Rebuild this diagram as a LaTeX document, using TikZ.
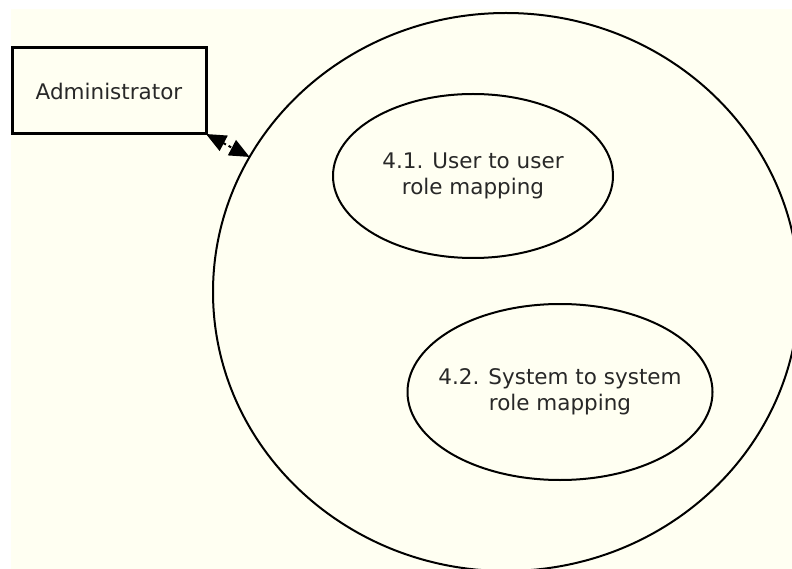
\documentclass[tikz,border=0pt]{standalone}
\usepackage{fontspec}
\setmainfont{DejaVu Sans}
\usetikzlibrary{shapes.geometric,arrows.meta}
\definecolor{cream}{RGB}{255,255,242}
\definecolor{txt}{RGB}{40,40,40}
\tikzset{
  lbl/.style={font=\fontsize{21.5}{26}\selectfont, text=txt, align=center},
  actor/.style={draw=black, line width=3pt, rectangle, minimum width=194pt, minimum height=86pt, inner sep=0pt, outer sep=0pt, lbl},
  proc/.style={draw=black, line width=2pt, ellipse, inner xsep=-40pt, inner ysep=-20pt, outer sep=0pt, lbl},
  flow/.style={line width=2pt, dash pattern=on 3pt off 3pt, {Triangle[length=20pt,width=17pt]}-{Triangle[length=20pt,width=17pt]}}
}
\begin{document}
\begin{tikzpicture}[x=1pt,y=-1pt]
\useasboundingbox (0,0) rectangle (792,569);
\clip (0,0) rectangle (792,569);
\fill[cream] (11,9) rectangle (792,569);
\node[proc, minimum width=586pt, minimum height=558pt] (sys) at (506,292) {};
\node[actor] (admin) at (109,91) {Administrator};
\node[proc, minimum width=280pt, minimum height=164pt] (p41) at (473,176) {4.1. User to user\\role mapping};
\node[proc, minimum width=305pt, minimum height=176pt] (p42) at (560,392) {4.2. System to system\\role mapping};
\draw[flow] (admin.south east) -- (sys);
\end{tikzpicture}
\end{document}
